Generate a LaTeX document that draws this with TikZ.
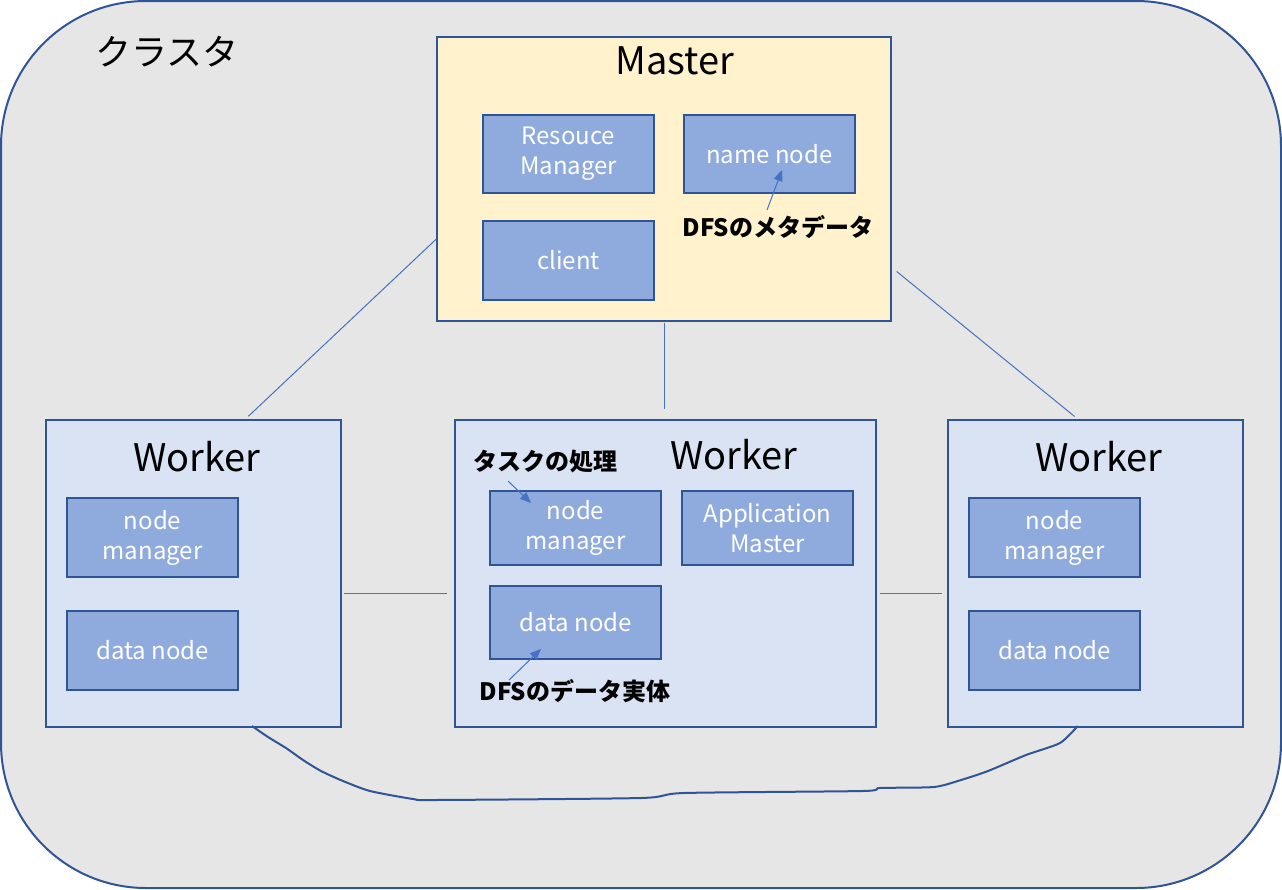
\documentclass[tikz,border=0pt]{standalone}
\usepackage{fontspec}
\setmainfont{Noto Sans CJK JP}
\usetikzlibrary{arrows.meta,calc}
\definecolor{bord}{HTML}{2F5597}
\definecolor{inner}{HTML}{8FAADC}
\definecolor{workfill}{HTML}{DAE3F3}
\definecolor{masterfill}{HTML}{FFF2CC}
\definecolor{bgfill}{HTML}{E6E6E6}
\definecolor{linkc}{HTML}{4472C4}
\tikzset{
  x=1pt,y=-1pt,
  outerbox/.style={draw=bord,line width=2pt,fill=bgfill,rounded corners=145pt},
  masterbox/.style={draw=bord,line width=2pt,fill=masterfill,inner sep=0pt},
  workerbox/.style={draw=bord,line width=2pt,fill=workfill,inner sep=0pt,minimum width=295pt,minimum height=307pt},
  compbox/.style={draw=bord,line width=2pt,fill=inner,inner sep=0pt,minimum width=171pt,text=white,align=center,
    font=\fontsize{24}{30}\selectfont},
  title/.style={font=\fontsize{38}{44}\selectfont,text=black,inner sep=0pt},
  note/.style={font=\bfseries\fontsize{24}{28}\selectfont,text=black,inner sep=0pt},
  link/.style={draw=linkc,line width=1pt},
  noteline/.style={draw=linkc,line width=1pt,-{Triangle[width=9pt,length=11pt]}},
  bus/.style={draw=bord,line width=2pt,line join=round},
}
\begin{document}
\begin{tikzpicture}
\useasboundingbox (0,0) rectangle (1282,889);
\path[outerbox] (1,1) rectangle (1281,888);
\node[title,font=\fontsize{36}{40}\selectfont] (cl) at (167,52) {クラスタ};

% master
\node[masterbox,minimum width=454pt,minimum height=284pt] (master) at (664,179) {};
\node[title] (mt) at (675,61) {Master};
\node[compbox,minimum height=78pt] (rm) at (568.5,154) {Resouce\\Manager};
\node[compbox,minimum height=78pt] (nn) at (769.5,154) {name node};
\node[compbox,minimum height=79pt] (cli) at (568.5,260.5) {client};
\node[note] (meta) at (778,227) {DFSのメタデータ};
\draw[noteline] ($(meta.center)+(-11,-17)$) -- ($(nn.south)+(12.5,-24)$);

% left worker
\node[workerbox] (wl) at (193.5,573.5) {};
\node[title] (wlt) at (197,457) {Worker};
\node[compbox,minimum height=79pt] (wlnm) at (152.5,537.5) {node\\manager};
\node[compbox,minimum height=79pt] (wldn) at (152.5,650.5) {data node};

% middle worker
\node[workerbox,minimum width=421pt] (wm) at (665.5,573.5) {};
\node[title] (wmt) at (734,455) {Worker};
\node[compbox,minimum height=74pt] (wmnm) at (575.5,528) {node\\manager};
\node[compbox,minimum height=74pt] (wmam) at (767.5,528) {Application\\Master};
\node[compbox,minimum height=73pt] (wmdn) at (575.5,622.5) {data node};
\node[note] (task) at (545,462) {タスクの処理};
\node[note] (ent) at (575,691) {DFSのデータ実体};
\draw[noteline] ($(task.center)+(-37,19)$) -- ($(wmnm.north west)+(42,13)$);
\draw[noteline] ($(ent.center)+(-66,-11)$) -- ($(wmdn.south west)+(52,-11)$);

% right worker
\node[workerbox] (wr) at (1095.5,573.5) {};
\node[title] (wrt) at (1099,457) {Worker};
\node[compbox,minimum height=79pt] (wrnm) at (1054.5,537.5) {node\\manager};
\node[compbox,minimum height=79pt] (wrdn) at (1054.5,650.5) {data node};

% connectors
\draw[link,shorten >=4pt] ($(master.north west)!0.711!(master.south west)$) -- ($(wl.north west)!0.675!(wl.north east)$);
\draw[link,shorten <=1pt,shorten >=10pt] (master.south) -- (master.south |- wm.north);
\draw[link,shorten <=6pt,shorten >=4pt] ($(master.north east)!0.81!(master.south east)$) -- ($(wr.north west)!0.44!(wr.north east)$);
\draw[link,shorten <=2pt,shorten >=7pt] (wl.east |- 0,593) -- (wm.west |- 0,593);
\draw[link,shorten <=3pt,shorten >=5pt] (wm.east |- 0,593) -- (wr.west |- 0,593);

% bottom bus
\coordinate (b0) at ($(wl.south west)!0.697!(wl.south east)+(0,-2)$);
\coordinate (b1) at ($(wr.south west)!0.44!(wr.south east)+(0,-2)$);
\draw[bus] plot[smooth,tension=0.4] coordinates {(b0) (268,737) (286,748) (303,760) (321,771) (343,781) (370,791) (413,799) (435,800) (641,798) (684,793) (863,791) (880,788) (934,787) (961,780) (988,771) (1026,755) (1060,743) (b1)};
\end{tikzpicture}
\end{document}
